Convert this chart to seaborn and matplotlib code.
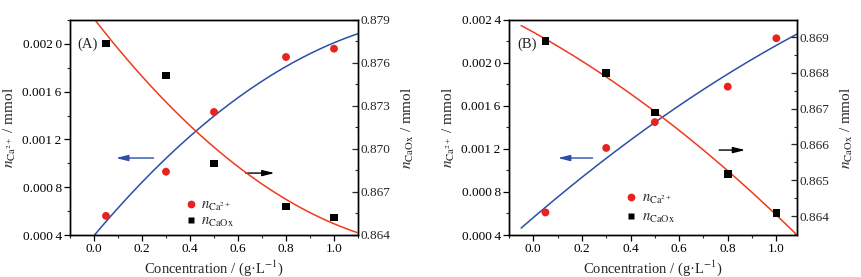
import numpy as np
import pandas as pd
import matplotlib
matplotlib.use("Agg")
import matplotlib.pyplot as plt
import seaborn as sns
from matplotlib.ticker import MultipleLocator, FuncFormatter
from matplotlib.lines import Line2D

sns.set_theme(style="ticks")
plt.rcParams['font.family'] = ['Liberation Serif', 'DejaVu Serif']
plt.rcParams['mathtext.fontset'] = 'stix'

# ---- data ----
conc = [0.05, 0.3, 0.5, 0.8, 1.0]
ca_A = [0.00056, 0.00093, 0.00143, 0.00189, 0.00196]
caox_A = [0.87735, 0.87514, 0.8690, 0.8660, 0.86521]
ca_B = [0.00061, 0.00121, 0.00145, 0.00178, 0.00223]
caox_B = [0.86890, 0.86800, 0.86689, 0.86518, 0.86408]

panel_labels = ["(A)", "(B)"]
xticks = [0.0, 0.2, 0.4, 0.6, 0.8, 1.0]

RED = "#e8231e"
RED_LINE = "#f03a1c"
BLUE = "#2b4ea6"

fig = plt.figure(figsize=(8.61, 2.77), dpi=100)
W, H = 861, 277

def px_axes(l, t, r, b):
    return fig.add_axes([l / W, 1 - b / H, (r - l) / W, (b - t) / H])

def fmt_left(v, pos):
    s = f"{v:.4f}"
    return s[:-1] + "\u2009" + s[-1]

def fmt_right(v, pos):
    return f"{v:.3f}"

configs = [
    dict(box=(70, 20, 358, 235), ca=ca_A, caox=caox_A, ylim=(0.0004, 0.0022),
         y2lim=(0.864, 0.879), y2major=0.003, y2minor=0.0015, xlim=(-0.1, 1.1),
         lab=(0.025, 0.888), leg=(0.353, -0.02), lspace=0.12,
         arrL=((0.30, 0.358), (0.15, 0.358)), arrR=((0.60, 0.288), (0.72, 0.288))),
    dict(box=(509, 20, 797, 235), ca=ca_B, caox=caox_B, ylim=(0.0004, 0.0024),
         y2lim=(0.86347, 0.86948), y2major=0.001, y2minor=0.0005, xlim=(-0.1, 1.085),
         lab=(0.028, 0.888), leg=(0.359, 0.0), lspace=0.3,
         arrL=((0.30, 0.358), (0.16, 0.358)), arrR=((0.72, 0.395), (0.83, 0.395))),
]

for i, c in enumerate(configs):
    ax = px_axes(*c["box"])
    ax2 = ax.twinx()
    df = pd.DataFrame({"conc": conc, "ca": c["ca"], "caox": c["caox"]})

    xs = np.linspace(-0.05, 1.12, 200)
    fit_ca = np.polyval(np.polyfit(conc, c["ca"], 2), xs)
    fit_ox = np.polyval(np.polyfit(conc, c["caox"], 2), xs)
    fd = pd.DataFrame({"x": xs, "ca": fit_ca, "ox": fit_ox})

    sns.lineplot(data=fd, x="x", y="ca", ax=ax, color=BLUE, lw=1.1, zorder=2)
    sns.scatterplot(data=df, x="conc", y="ca", ax=ax, color=RED, s=32,
                    marker="o", edgecolor="none", zorder=3)
    sns.lineplot(data=fd, x="x", y="ox", ax=ax2, color=RED_LINE, lw=1.1, zorder=2)
    sns.scatterplot(data=df, x="conc", y="caox", ax=ax2, color="black", s=30,
                    marker="s", edgecolor="none", zorder=3)

    ax.set_xlim(*c["xlim"])
    ax.set_ylim(*c["ylim"])
    ax2.set_ylim(*c["y2lim"])
    ax.set_xticks(xticks)
    ax.xaxis.set_minor_locator(MultipleLocator(0.1))
    ax.yaxis.set_major_locator(MultipleLocator(0.0004))
    ax.yaxis.set_minor_locator(MultipleLocator(0.0002))
    ax.yaxis.set_major_formatter(FuncFormatter(fmt_left))
    ax.xaxis.set_major_formatter(FuncFormatter(lambda v, p: f"{v:.1f}"))
    ax2.yaxis.set_major_locator(MultipleLocator(c["y2major"]))
    ax2.yaxis.set_minor_locator(MultipleLocator(c["y2minor"]))
    ax2.yaxis.set_major_formatter(FuncFormatter(fmt_right))

    ax.tick_params(axis="both", which="major", direction="out", length=4, width=0.9,
                   labelsize=9.5, colors="black", pad=2)
    ax.tick_params(axis="both", which="minor", direction="out", length=2.5, width=0.8)
    ax2.tick_params(axis="y", which="major", direction="in", length=4, width=0.9,
                    labelsize=9.5, pad=2)
    ax2.tick_params(axis="y", which="minor", direction="in", length=2.5, width=0.8)
    for a in (ax, ax2):
        for s in a.spines.values():
            s.set_linewidth(1.0)
            s.set_color("black")

    ax.set_xlabel("Concentration / (g\u00b7L$^{-1}$)", fontsize=10.5, labelpad=2)
    ax.set_ylabel(r"$n_{\mathrm{Ca}^{2+}}$ / mmol", fontsize=11, labelpad=3)
    ax2.set_ylabel(r"$n_{\mathrm{CaOx}}$ / mmol", fontsize=11, labelpad=7)

    ax.text(c["lab"][0], c["lab"][1], panel_labels[i], transform=ax.transAxes,
            fontsize=10.5, va="center", ha="left")

    (x0, y0), (x1, y1) = c["arrL"]
    ax.annotate("", xy=(x1, y1), xytext=(x0, y0), xycoords="axes fraction",
                arrowprops=dict(arrowstyle="-|>,head_length=0.6,head_width=0.15",
                                color=BLUE, lw=1.0))
    (x0, y0), (x1, y1) = c["arrR"]
    ax.annotate("", xy=(x1, y1), xytext=(x0, y0), xycoords="axes fraction",
                arrowprops=dict(arrowstyle="-|>,head_length=0.6,head_width=0.15",
                                color="black", lw=1.0))

    handles = [
        Line2D([], [], marker="o", ls="none", color=RED, markersize=5.6, mec="none"),
        Line2D([], [], marker="s", ls="none", color="black", markersize=5.0, mec="none"),
    ]
    ax2.legend(handles, [r"$n_{\mathrm{Ca}^{2+}}$", r"$n_{\mathrm{CaOx}}$"],
               loc="lower left", bbox_to_anchor=c["leg"], frameon=False,
               fontsize=10.5, handletextpad=0.1, labelspacing=c["lspace"], borderpad=0.2,
               handlelength=1.2)

fig.savefig("out.png", dpi=100)
